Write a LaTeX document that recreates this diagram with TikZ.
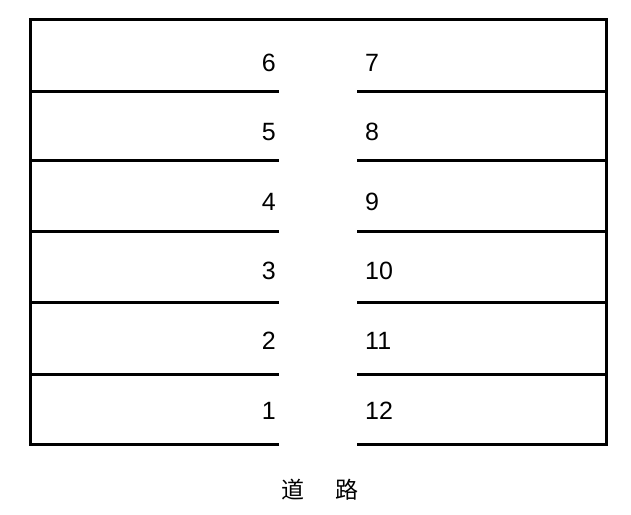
\documentclass[tikz,border=0pt]{standalone}
\usepackage{fontspec}
\setmainfont{Liberation Sans}
\newfontfamily\cjk{Noto Sans CJK SC}
\tikzstyle{lot line}=[line width=3pt]
\tikzstyle{lot number}=[font=\fontsize{25}{30}\selectfont, inner sep=0pt]
\tikzstyle{road label}=[font=\fontsize{23}{28}\selectfont\cjk, inner sep=0pt]
\begin{document}
\begin{tikzpicture}[x=1pt, y=-1pt]
  \useasboundingbox (0,0) rectangle (631,514);
  % outer frame, open at the road
  \draw[lot line] (279,444) -- (30,444) -- (30,19) -- (606,19)
    -- (606,444) -- (357,444);
  % lot borders
  \foreach \y in {91,160,231,302,374} {
    \draw[lot line] (30,\y) -- (279,\y);
    \draw[lot line] (357,\y) -- (606,\y);
  }
  % lot numbers
  \foreach \n/\y in {6/71,5/140,4/210,3/279,2/349,1/419}
    \node[lot number, anchor=base east] (lot\n) at (276,\y) {\n};
  \foreach \n/\y in {7/71,8/140,9/210,10/279,11/349,12/419}
    \node[lot number, anchor=base west] (lot\n) at (365,\y) {\n};
  \node[road label] (road) at (320,490) {道\hspace{31pt}路};
\end{tikzpicture}
\end{document}
